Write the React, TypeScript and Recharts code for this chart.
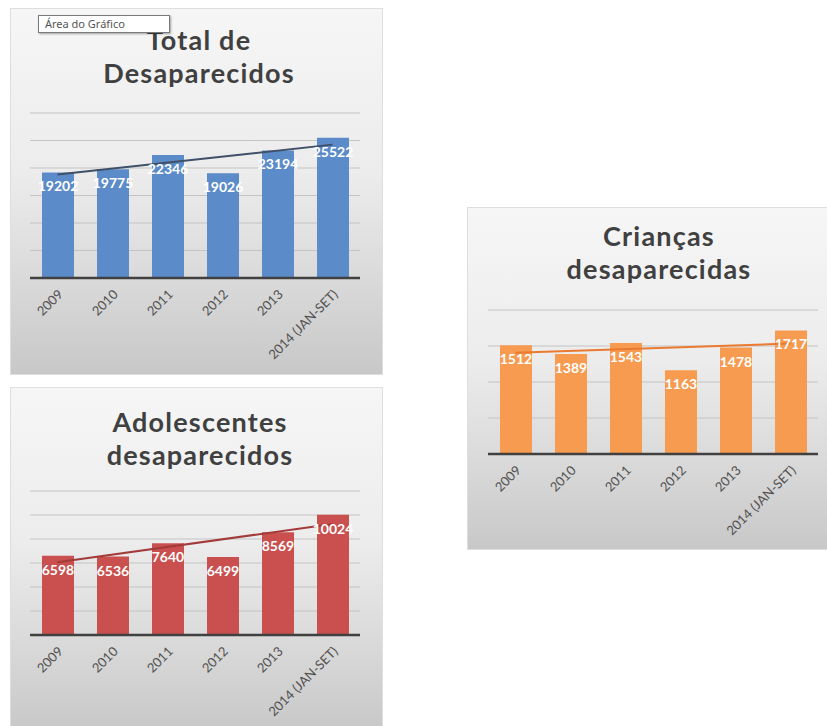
import * as React from "react"
import { Bar, CartesianGrid, ComposedChart, LabelList, Line, XAxis, YAxis } from "recharts"

const years = ["2009", "2010", "2011", "2012", "2013", "2014 (JAN-SET)"]

const totalValues = [19202, 19775, 22346, 19026, 23194, 25522]
const adolescentValues = [6598, 6536, 7640, 6499, 8569, 10024]
const childValues = [1512, 1389, 1543, 1163, 1478, 1717]

// trendline ends (straight line, nulls in between)
const totalTrend = [18800, null, null, null, null, 24250]
const adolescentTrend = [6070, null, null, null, null, 9250]
const childTrend = [1405, null, null, null, null, 1535]

const totalTicks = [0, 5000, 10000, 15000, 20000, 25000, 30000]
const adolescentTicks = [0, 2000, 4000, 6000, 8000, 10000, 12000]
const childTicks = [0, 500, 1000, 1500, 2000]

const FONT = "Lato, 'Open Sans', sans-serif"

const buildRows = (values: number[], trend: (number | null)[]) =>
  years.map((year, i) => ({ year, value: values[i], trend: trend[i] }))

const AngledTick = (props: any) => {
  const { x, y, payload } = props
  return (
    <g transform={`translate(${x + 3},${y + 6})`}>
      <text
        x={0}
        y={0}
        dy="0.35em"
        textAnchor="end"
        transform="rotate(-45)"
        fill="#505050"
        fontSize={13}
        fontFamily={FONT}
      >
        {payload.value}
      </text>
    </g>
  )
}

interface PanelProps {
  left: number
  top: number
  width: number
  height: number
  margin: { top: number; right: number; left: number; bottom: number }
  axisHeight: number
  titleLines: string[]
  titleX: number
  titleY: number[]
  values: number[]
  trend: (number | null)[]
  ticks: number[]
  barColor: string
  lineColor: string
}

const Panel = (p: PanelProps) => {
  const data = buildRows(p.values, p.trend)
  const max = p.ticks[p.ticks.length - 1]
  return (
    <div
      style={{
        position: "absolute",
        left: p.left,
        top: p.top,
        width: p.width,
        height: p.height,
        background: "linear-gradient(180deg, #f6f6f6 0%, #ececec 45%, #d9d9d9 75%, #c8c8c8 100%)",
        border: "1px solid #dedede",
        boxSizing: "border-box",
      }}
    >
      <ComposedChart width={p.width - 2} height={p.height - 2} data={data} margin={p.margin}>
        <CartesianGrid horizontal vertical={false} stroke="#c4c4c4" />
        <XAxis
          dataKey="year"
          height={p.axisHeight}
          tickLine={false}
          axisLine={{ stroke: "#404040", strokeWidth: 2.5 }}
          tick={<AngledTick />}
          interval={0}
        />
        <YAxis hide domain={[0, max]} ticks={p.ticks} />
        <Bar dataKey="value" fill={p.barColor} barSize={32} isAnimationActive={false}>
          <LabelList
            dataKey="value"
            position="insideTop"
            offset={9}
            fill="#ffffff"
            fontSize={14}
            fontWeight={700}
            fontFamily={FONT}
          />
        </Bar>
        <Line
          dataKey="trend"
          stroke={p.lineColor}
          strokeWidth={2}
          dot={false}
          connectNulls
          isAnimationActive={false}
        />
      </ComposedChart>
      <svg
        width={p.width}
        height={100}
        style={{ position: "absolute", left: 0, top: 0, pointerEvents: "none" }}
      >
        {p.titleLines.map((line, i) => (
          <text
            key={line}
            x={p.titleX}
            y={p.titleY[i]}
            textAnchor="middle"
            fill="#404040"
            fontSize={27}
            fontWeight={700}
            letterSpacing={1.2}
            fontFamily={FONT}
          >
            {line}
          </text>
        ))}
      </svg>
    </div>
  )
}

export default function App() {
  return (
    <div
      style={{
        position: "absolute",
        left: 0,
        top: 0,
        width: 827,
        height: 726,
        background: "#ffffff",
        overflow: "hidden",
      }}
    >
      <Panel
        left={10}
        top={8}
        width={373}
        height={367}
        margin={{ top: 104, right: 22, left: 19, bottom: 0 }}
        axisHeight={96}
        titleLines={["Total de", "Desaparecidos"]}
        titleX={188}
        titleY={[41, 74]}
        values={totalValues}
        trend={totalTrend}
        ticks={totalTicks}
        barColor="#5b8bc8"
        lineColor="#3f5068"
      />
      <Panel
        left={10}
        top={387}
        width={373}
        height={345}
        margin={{ top: 103, right: 22, left: 19, bottom: 0 }}
        axisHeight={96}
        titleLines={["Adolescentes", "desaparecidos"]}
        titleX={189}
        titleY={[44, 77]}
        values={adolescentValues}
        trend={adolescentTrend}
        ticks={adolescentTicks}
        barColor="#c9504e"
        lineColor="#a23b39"
      />
      <Panel
        left={467}
        top={207}
        width={362}
        height={343}
        margin={{ top: 102, right: 10, left: 20, bottom: 0 }}
        axisHeight={95}
        titleLines={["Crianças", "desaparecidas"]}
        titleX={191}
        titleY={[38, 71]}
        values={childValues}
        trend={childTrend}
        ticks={childTicks}
        barColor="#f79b50"
        lineColor="#e97a30"
      />
      <div
        style={{
          position: "absolute",
          left: 38,
          top: 15,
          width: 132,
          height: 18,
          boxSizing: "border-box",
          background: "#ffffff",
          border: "1px solid #7a7a7a",
          boxShadow: "1px 1px 2px rgba(0,0,0,0.35)",
          fontFamily: "'Noto Sans', sans-serif",
          fontSize: 11,
          lineHeight: "16px",
          color: "#555555",
          paddingLeft: 6,
        }}
      >
        Área do Gráfico
      </div>
    </div>
  )
}
